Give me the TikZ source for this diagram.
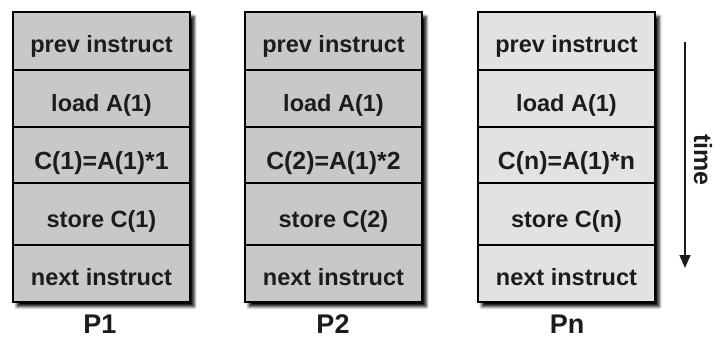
\documentclass[tikz,border=0pt]{standalone}
\usepackage{fontspec}
\setmainfont{Liberation Sans}
\usetikzlibrary{arrows.meta,shadows.blur}

\definecolor{cellgray}{RGB}{200,200,200}
\definecolor{celllight}{RGB}{226,226,226}
\definecolor{ink}{RGB}{28,28,28}

\tikzset{
  colframe/.style={draw=black, line width=2.6pt, minimum width=177pt,
    minimum height=290pt, inner sep=0pt,
    blur shadow={shadow xshift=4pt, shadow yshift=-4.5pt,
      shadow blur radius=3pt, shadow opacity=100}},
  cellbox/.style={draw=black, line width=1.8pt, minimum width=177pt,
    inner sep=0pt},
  celltext/.style={anchor=base, inner sep=0pt, text=ink,
    font=\fontsize{23.5}{28}\selectfont\bfseries},
  widetext/.style={celltext, font=\fontsize{24.8}{28}\selectfont\bfseries},
  proclabel/.style={anchor=base, inner sep=0pt, text=ink,
    font=\fontsize{27}{32}\selectfont\bfseries},
  timearrow/.style={draw=ink, line width=1.6pt,
    -{Triangle[width=11pt,length=13pt]}},
}

\begin{document}
\begin{tikzpicture}[x=1pt,y=-1pt]
\useasboundingbox (0,0) rectangle (714,345);

% one processor column: #1 name, #2 left edge, #3 fill, #4 index text
\newcommand\proccolumn[4]{%
  \node[colframe, fill=#3] (#1frame) at (#2+88.5,157) {};
  \node[cellbox, minimum height=58pt] (#1r1) at (#2+88.5,41) {};
  \node[cellbox, minimum height=57pt] (#1r2) at (#2+88.5,98.5) {};
  \node[cellbox, minimum height=56pt] (#1r3) at (#2+88.5,155) {};
  \node[cellbox, minimum height=62pt] (#1r4) at (#2+88.5,214) {};
  \node[cellbox, minimum height=57pt] (#1r5) at (#2+88.5,273.5) {};
  \node[draw=black, line width=2.6pt, minimum width=177pt,
    minimum height=290pt, inner sep=0pt] (#1edge) at (#2+88.5,157) {};
  \node[celltext] (#1t1) at ([yshift=-11.5pt]#1r1.center) {prev instruct};
  \node[celltext] (#1t2) at ([yshift=-13pt]#1r2.center) {load A(1)};
  \node[widetext] (#1t3) at ([yshift=-14.5pt]#1r3.center) {C(#4)=A(1)*#4};
  \node[celltext] (#1t4) at ([yshift=-13pt]#1r4.center) {store C(#4)};
  \node[celltext] (#1t5) at ([yshift=-11.5pt]#1r5.center) {next instruct};
}

\proccolumn{pa}{13}{cellgray}{1}
\proccolumn{pb}{245}{cellgray}{2}
\proccolumn{pn}{478}{celllight}{n}

\node[proclabel] (la) at (100,333) {P1};
\node[proclabel] (lb) at (333,333) {P2};
\node[proclabel] (ln) at (567,333) {Pn};

% time axis
\coordinate (tstart) at (685,42);
\coordinate (tend) at (685,268);
\draw[timearrow] (tstart) -- (tend);
\node[rotate=-90, inner sep=0pt, text=ink,
  font=\fontsize{25}{30}\selectfont\bfseries] (time) at (703,160) {time};
\end{tikzpicture}
\end{document}
